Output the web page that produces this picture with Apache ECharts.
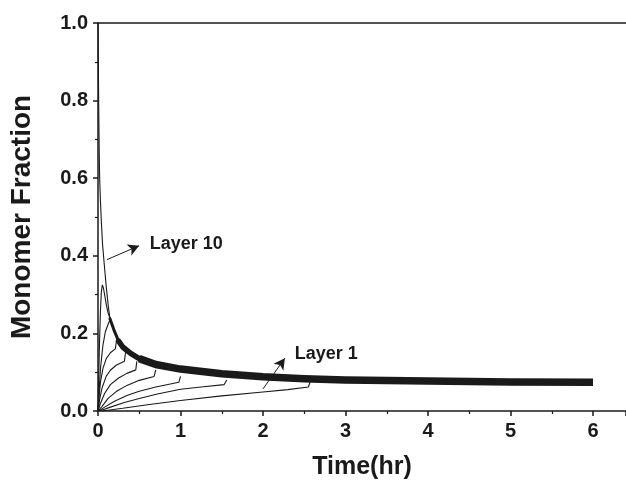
<!DOCTYPE html>
<html>
<head>
<meta charset="utf-8">
<script src="https://cdn.jsdelivr.net/npm/echarts@6/dist/echarts.min.js"></script>
<style>
html,body{margin:0;padding:0;background:#fff;}
#chart{width:626px;height:485px;}
</style>
</head>
<body>
<div id="chart"></div>
<script>
// ---- data ----
const xTicks = [0, 1, 2, 3, 4, 5, 6];
const yTicks = [0.0, 0.2, 0.4, 0.6, 0.8, 1.0];

const layer10T = [0, 0.004, 0.008, 0.014, 0.02, 0.03, 0.04, 0.055, 0.075, 0.1, 0.125, 0.145];
const layer10V = [1.0, 0.9, 0.8, 0.68, 0.6, 0.54, 0.49, 0.43, 0.38, 0.32, 0.27, 0.238];

const layer9T = [0, 0.01, 0.02, 0.03, 0.04, 0.052, 0.065, 0.08, 0.1, 0.12, 0.145];
const layer9V = [0, 0.1, 0.19, 0.26, 0.305, 0.325, 0.318, 0.3, 0.275, 0.255, 0.238];

const layer8T = [0, 0.01, 0.03, 0.06, 0.09, 0.125, 0.145];
const layer8V = [0, 0.04, 0.11, 0.17, 0.205, 0.225, 0.235];

const layer7T = [0, 0.01, 0.03, 0.06, 0.1, 0.15, 0.21, 0.225];
const layer7V = [0, 0.03, 0.075, 0.11, 0.135, 0.15, 0.16, 0.183];

const layer6T = [0, 0.02, 0.05, 0.1, 0.15, 0.22, 0.32, 0.335];
const layer6V = [0, 0.03, 0.06, 0.09, 0.105, 0.118, 0.128, 0.152];

const layer5T = [0, 0.03, 0.08, 0.15, 0.25, 0.35, 0.458, 0.47];
const layer5V = [0, 0.02, 0.045, 0.068, 0.085, 0.097, 0.106, 0.128];

const layer4T = [0, 0.05, 0.12, 0.22, 0.35, 0.5, 0.68, 0.70];
const layer4V = [0, 0.012, 0.032, 0.05, 0.066, 0.079, 0.089, 0.106];

const layer3T = [0.01, 0.08, 0.2, 0.35, 0.5, 0.7, 0.98, 1.0];
const layer3V = [0, 0.01, 0.025, 0.04, 0.051, 0.062, 0.074, 0.089];

const layer2T = [0.02, 0.15, 0.32, 0.5, 0.72, 1.0, 1.25, 1.53, 1.56];
const layer2V = [0, 0.01, 0.022, 0.032, 0.044, 0.056, 0.062, 0.068, 0.08];

const layer1T = [0.05, 0.3, 0.6, 1.0, 1.5, 2.0, 2.3, 2.55, 2.58];
const layer1V = [0, 0.007, 0.016, 0.027, 0.039, 0.049, 0.055, 0.062, 0.08];

// common (merged) curve that all layers follow once they join
const mergedT = [0.145, 0.2, 0.25, 0.3, 0.4, 0.5, 0.7, 1.0, 1.5, 2.0, 2.5, 3, 4, 5, 6];
const mergedV = [0.238, 0.205, 0.18, 0.165, 0.148, 0.135, 0.12, 0.108, 0.096, 0.088, 0.083, 0.080, 0.077, 0.075, 0.074];

const layers = [
  ['Layer 10', layer10T, layer10V],
  ['Layer 9', layer9T, layer9V],
  ['Layer 8', layer8T, layer8V],
  ['Layer 7', layer7T, layer7V],
  ['Layer 6', layer6T, layer6V],
  ['Layer 5', layer5T, layer5V],
  ['Layer 4', layer4T, layer4V],
  ['Layer 3', layer3T, layer3V],
  ['Layer 2', layer2T, layer2V],
  ['Layer 1', layer1T, layer1V]
];

const pairs = (t, v) => t.map((x, i) => [x, v[i]]);
const FONT = '"Liberation Sans", Arial, Helvetica, sans-serif';
const INK = '#1a1a1a';

const series = layers.map(([name, t, v]) => ({
  name: name,
  type: 'line',
  data: pairs(t, v),
  showSymbol: false,
  smooth: false,
  lineStyle: { color: INK, width: 1.1 },
  emphasis: { disabled: true },
  z: 3
}));

// the merged band thickens as more layers join it
const mergedAll = pairs(mergedT, mergedV);
const bandParts = [
  [0, 3, 3],    // indices [from, to] and stroke width
  [2, 6, 5.5],
  [5, mergedAll.length - 1, 7.5]
];
bandParts.forEach(([a, b, w], k) => {
  series.push({
    name: 'Merged ' + k,
    type: 'line',
    data: mergedAll.slice(a, b + 1),
    showSymbol: false,
    lineStyle: { color: INK, width: w, cap: k === 2 ? 'butt' : 'round', join: 'round' },
    emphasis: { disabled: true },
    z: 4
  });
});

series.push({
  name: 'Annotations',
  type: 'line',
  data: [],
  showSymbol: false,
  markLine: {
    silent: true,
    symbol: ['none', 'arrow'],
    symbolSize: [9, 11],
    label: { show: false },
    lineStyle: { color: INK, width: 1, type: 'solid' },
    data: [
      [{ coord: [0.108, 0.39] }, { coord: [0.498, 0.426] }],
      [{ coord: [2.0, 0.057] }, { coord: [2.265, 0.136] }]
    ]
  },
  markPoint: {
    silent: true,
    symbol: 'circle',
    symbolSize: 0,
    label: {
      show: true,
      position: 'right',
      distance: 0,
      color: INK,
      fontFamily: FONT,
      fontWeight: 'bold',
      fontSize: 18,
      formatter: p => p.name
    },
    data: [
      { name: 'Layer 10', coord: [0.627, 0.43] },
      { name: 'Layer 1', coord: [2.385, 0.147] }
    ]
  }
});

const chart = echarts.init(document.getElementById('chart'), null, { renderer: 'canvas' });
chart.setOption({
  animation: false,
  backgroundColor: '#fff',
  grid: { left: 97, top: 23, right: 0, bottom: 72, containLabel: false },
  xAxis: [{
    type: 'value',
    min: xTicks[0],
    max: 6.4,
    interval: 1,
    name: 'Time(hr)',
    nameLocation: 'middle',
    nameGap: 44,
    nameTextStyle: { color: INK, fontFamily: FONT, fontWeight: 'bold', fontSize: 25 },
    axisLine: { show: true, onZero: false, lineStyle: { color: INK, width: 1.5 } },
    axisTick: { show: true, inside: false, length: 5, lineStyle: { color: INK, width: 1.5 } },
    minorTick: { show: true, splitNumber: 2, length: 3, lineStyle: { color: INK, width: 1.2 } },
    splitLine: { show: false },
    axisLabel: {
      showMaxLabel: false,
      margin: 10,
      color: INK, fontFamily: FONT, fontWeight: 'bold', fontSize: 20,
      formatter: v => xTicks.includes(v) ? String(v) : ''
    }
  }, {
    type: 'value',
    position: 'top',
    min: xTicks[0],
    max: 6.4,
    axisLine: { show: true, onZero: false, lineStyle: { color: INK, width: 1.5 } },
    axisTick: { show: false },
    axisLabel: { show: false },
    splitLine: { show: false }
  }],
  yAxis: {
    type: 'value',
    min: yTicks[0],
    max: yTicks[yTicks.length - 1],
    interval: 0.2,
    name: 'Monomer Fraction',
    nameLocation: 'middle',
    nameGap: 62,
    nameTextStyle: { color: INK, fontFamily: FONT, fontWeight: 'bold', fontSize: 28 },
    axisLine: { show: true, onZero: false, lineStyle: { color: INK, width: 1.5 } },
    axisTick: { show: true, inside: false, length: 5, lineStyle: { color: INK, width: 1.5 } },
    minorTick: { show: true, splitNumber: 2, length: 3, lineStyle: { color: INK, width: 1.2 } },
    splitLine: { show: false },
    axisLabel: {
      margin: 10,
      color: INK, fontFamily: FONT, fontWeight: 'bold', fontSize: 20,
      formatter: v => v.toFixed(1)
    }
  },
  series: series
});
</script>
</body>
</html>
